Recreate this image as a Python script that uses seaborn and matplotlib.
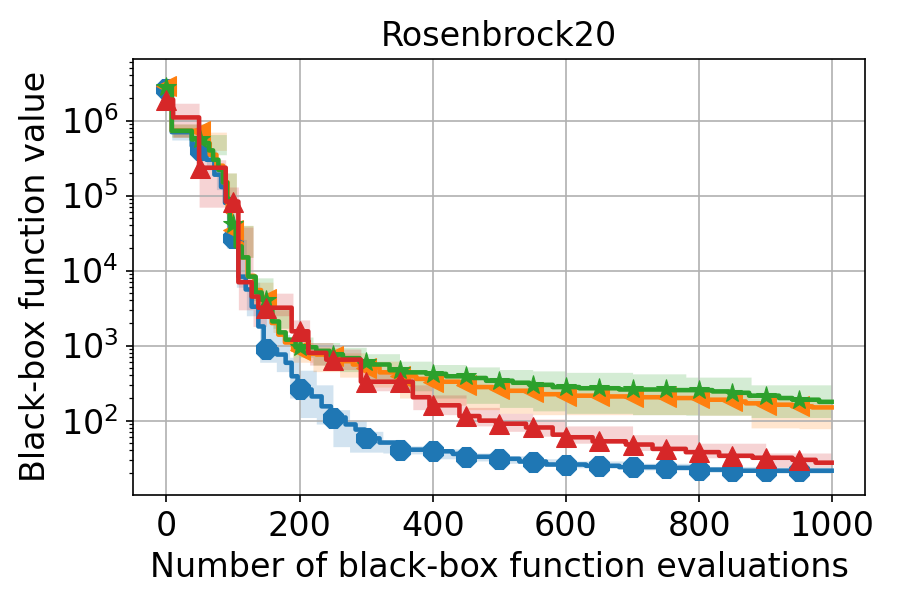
import numpy as np
import pandas as pd
import matplotlib
matplotlib.use("Agg")
from matplotlib import pyplot as plt
import seaborn as sns

# evaluations shown on the x axis
n_evals = 1000

# step breakpoints (evaluation index) and best value reached so far
blue_x = [0, 8, 38, 45, 60, 72, 82, 88, 95, 104, 108, 119, 128, 138, 146, 166, 179, 188, 197,
          218, 233, 247, 269, 284, 298, 320, 345, 390, 430, 450, 490, 530, 570, 630, 680, 740, 800, 850]
blue_y = [2.6e6, 7.0e5, 4.6e5, 4.1e5, 3.0e5, 1.9e5, 1.3e5, 8.0e4, 2.7e4, 2.6e4, 8.3e3, 5.6e3, 3.3e3,
          1.8e3, 900, 760, 590, 390, 260, 210, 155, 110, 89, 76, 58, 51, 41, 39, 36, 33, 31, 28.5,
          26, 25, 24, 23.5, 22.2, 21.5]
blue_band_x = [0, 8, 40, 60, 75, 90, 105, 120, 140, 165, 185, 200, 225, 250, 275, 300, 325, 350,
               400, 450, 500, 550, 600, 700, 800, 900]
blue_lo = [2.3e6, 5.5e5, 3.5e5, 2.2e5, 1.2e5, 2.0e4, 6.0e3, 2.5e3, 600, 450, 200, 110, 90, 45, 38,
           38, 37, 36, 31, 29, 27, 25, 23.5, 22, 20.5, 20]
blue_hi = [3.0e6, 8.0e5, 6.0e5, 4.0e5, 2.5e5, 9.0e4, 2.6e4, 7.0e3, 2.5e3, 1.4e3, 700, 470, 300, 140,
           100, 72, 55, 46, 42, 37, 34, 31, 29, 27, 24.5, 24]

orange_x = [0, 8, 55, 65, 75, 85, 92, 97, 106, 113, 122, 132, 142, 152, 158, 168, 178, 190, 205,
            225, 240, 262, 280, 300, 320, 345, 375, 400, 440, 455, 490, 510, 545, 560, 600, 650,
            700, 760, 810, 845, 870, 900, 940, 970]
orange_y = [2.9e6, 7.3e5, 5.0e5, 3.5e5, 2.5e5, 1.5e5, 6.0e4, 3.5e4, 2.3e4, 1.5e4, 8.5e3, 5.5e3, 4.2e3,
            3.0e3, 2.0e3, 1.4e3, 1.1e3, 880, 780, 760, 720, 620, 560, 510, 440, 390, 360, 330, 300,
            280, 265, 250, 240, 225, 215, 210, 205, 200, 190, 180, 170, 163, 155, 150]
orange_band_x = [0, 8, 55, 90, 105, 130, 160, 190, 220, 260, 300, 350, 400, 450, 500, 550, 600, 700,
                 800, 878, 950]
orange_lo = [2.5e6, 6.0e5, 4.0e5, 5.0e4, 1.5e4, 3.5e3, 1.5e3, 600, 450, 380, 280, 200, 160, 140, 125,
             120, 120, 120, 118, 80, 78]
orange_hi = [3.3e6, 9.0e5, 7.0e5, 2.0e5, 4.0e4, 7.0e3, 3.0e3, 1.1e3, 950, 800, 620, 460, 400, 350,
             310, 290, 270, 255, 240, 200, 190]

green_x = [0, 8, 38, 58, 64, 70, 78, 85, 91, 95, 104, 113, 123, 134, 143, 154, 159, 169, 179, 194,
           225, 245, 265, 290, 310, 335, 360, 390, 420, 460, 480, 520, 545, 580, 620, 680, 760, 820,
           845, 875, 920, 940, 980]
green_y = [2.8e6, 7.3e5, 5.6e5, 5.0e5, 4.0e5, 3.0e5, 2.2e5, 1.5e5, 9.0e4, 4.2e4, 2.1e4, 1.5e4, 8.3e3,
           5.1e3, 4.1e3, 3.0e3, 2.1e3, 1.5e3, 1.2e3, 950, 850, 760, 680, 600, 560, 470, 440, 420,
           390, 370, 340, 320, 300, 280, 270, 260, 255, 245, 235, 215, 200, 190, 178]
green_band_x = [0, 8, 60, 90, 105, 130, 160, 190, 220, 260, 300, 350, 400, 450, 500, 550, 600, 700,
                780, 878]
green_lo = [2.5e6, 6.0e5, 3.5e5, 6.0e4, 1.5e4, 4.0e3, 1.7e3, 700, 550, 450, 350, 250, 200, 170, 150,
            135, 125, 120, 118, 110]
green_hi = [3.2e6, 9.0e5, 6.5e5, 2.0e5, 4.0e4, 8.0e3, 3.3e3, 1.3e3, 1.1e3, 950, 780, 620, 560, 520,
            480, 460, 440, 420, 380, 300]

red_x = [0, 10, 49, 89, 108, 128, 138, 188, 213, 240, 292, 370, 395, 440, 470, 495, 540, 580, 600,
         640, 690, 730, 780, 830, 880, 940, 975]
red_y = [1.9e6, 1.1e6, 2.35e5, 8.3e4, 7.0e3, 4.5e3, 3.2e3, 1.55e3, 800, 650, 330, 205, 160, 115, 100,
         91, 81, 65, 60, 53, 48, 42, 38, 34, 32, 30, 27.5]
red_band_x = [0, 10, 49, 89, 108, 130, 150, 190, 215, 250, 292, 370, 400, 450, 500, 550, 600, 700,
              800, 900]
red_lo = [1.5e6, 6.0e5, 7.0e4, 6.0e4, 3.0e3, 1.8e3, 2.5e3, 1.1e3, 550, 480, 250, 140, 120, 85, 72, 62,
          50, 40, 32, 24]
red_hi = [2.5e6, 1.7e6, 3.0e5, 1.3e5, 3.8e4, 5.0e3, 5.0e3, 2.2e3, 1.1e3, 900, 480, 300, 220, 150, 125,
          105, 85, 65, 50, 37]


def hold(bx, by, xs):
    # best-so-far curves are piecewise constant between breakpoints
    idx = np.searchsorted(bx, xs, side="right") - 1
    return np.asarray(by, dtype=float)[idx]


series = [
    ("blue", blue_x, blue_y, blue_band_x, blue_lo, blue_hi, "#1f77b4", "8"),
    ("orange", orange_x, orange_y, orange_band_x, orange_lo, orange_hi, "#ff7f0e", "<"),
    ("green", green_x, green_y, green_band_x, green_lo, green_hi, "#2ca02c", "*"),
    ("red", red_x, red_y, red_band_x, red_lo, red_hi, "#d62728", "^"),
]

plt.rcParams["font.size"] = 16
fig = plt.figure(figsize=(6, 4), dpi=150)
ax = fig.add_subplot(111)
fig.subplots_adjust(left=0.148, right=0.961, top=0.902, bottom=0.175)

xs = np.arange(n_evals)
for name, bx, by, kx, lo, hi, color, marker in series:
    df = pd.DataFrame({"evals": xs, "value": hold(bx, by, xs)})
    sns.lineplot(data=df, x="evals", y="value", ax=ax, color=color, lw=2.2,
                 drawstyle="steps-post", marker=marker, markevery=50, markersize=10,
                 markeredgecolor=color, markeredgewidth=0.5, estimator=None, errorbar=None)
    ax.fill_between(xs, hold(kx, lo, xs), hold(kx, hi, xs), step="post",
                    color=color, alpha=0.2, lw=0)

ax.set_yscale("log")
ax.set_ylim(10.2, 6.65e6)
ax.set_xticks([0, 200, 400, 600, 800, 1000])
ax.grid(True)
ax.set_xlabel("Number of black-box function evaluations")
ax.set_ylabel("Black-box function value")
ax.set_title("Rosenbrock20", fontsize=16)

plt.savefig("out.png", dpi=150)
